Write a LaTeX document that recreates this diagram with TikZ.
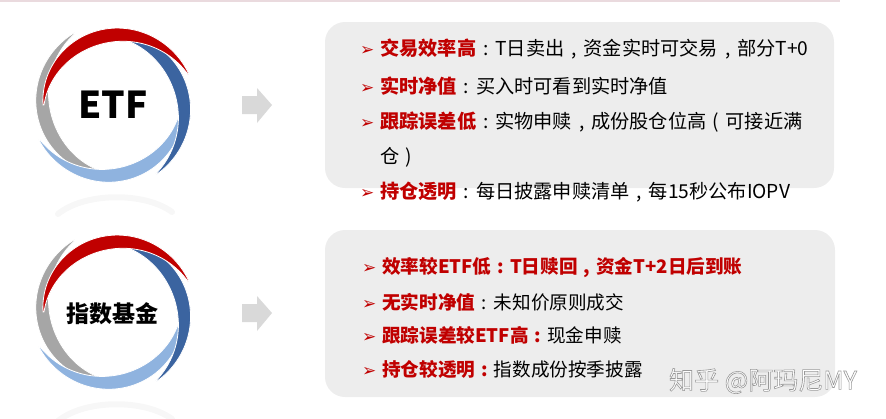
\documentclass[tikz,border=0pt]{standalone}
\usepackage{fontspec}
\setmainfont{Noto Sans CJK SC}
\newfontfamily\dingfont{DejaVu Sans}
\usetikzlibrary{positioning}

\definecolor{labred}{HTML}{C00000}
\definecolor{ringred}{HTML}{C00000}
\definecolor{ringdark}{HTML}{3B64A0}
\definecolor{ringlight}{HTML}{8FB3DF}
\definecolor{ringgray}{HTML}{A6A6A6}
\definecolor{panelgray}{HTML}{EDEDED}
\definecolor{arrowgray}{HTML}{D9D9D9}
\definecolor{topline}{HTML}{EADADE}

% one tapered swoosh of the ring: centre x, centre y, start angle, span, colour
\newcommand{\swoosh}[5]{%
  \fill[#5, draw=white, line width=0.8pt]
    plot[domain=0:1, samples=60] ({#1+(70+12*\x)*cos(#3-#4*\x)}, {#2-(70+12*\x)*sin(#3-#4*\x)})
    -- plot[domain=1:0, samples=60] ({#1+(69+12*\x-13*sin(180*\x))*cos(#3-#4*\x)}, {#2-(69+12*\x-13*sin(180*\x))*sin(#3-#4*\x)})
    -- cycle;}
\newcommand{\bul}{\makebox[20pt][l]{\dingfont\color{labred}\fontsize{17}{17}\selectfont ➢}}
\newcommand{\lbl}[1]{\textcolor{labred}{\bfseries #1}}
\newcommand{\fw}[1]{\makebox[1em][c]{#1}}

\begin{document}
\begin{tikzpicture}[
        x=1pt, y=-1pt,
        ringlabel/.style={inner sep=0pt, font=\bfseries},
        item/.style={anchor=west, inner sep=0pt, font=\fontsize{19.2}{19.2}\selectfont},
        itemb/.style={anchor=west, inner sep=0pt, font=\fontsize{18.6}{18.6}\selectfont},
        panel/.style={fill=panelgray, rounded corners=20pt},
        reflect/.style={line width=6pt, black!3, line cap=round}
    ]
    \useasboundingbox (0,0) rectangle (886,418);
    \draw[topline, line width=1.5pt] (0,0.75) -- (840,0.75);

    % rings
    \draw[reflect] (58,214) .. controls (85,192) and (145,192) .. (172,212);
    \swoosh{113}{105}{-90}{152}{ringgray}
    \swoosh{113}{105}{5}{160}{ringlight}
    \swoosh{113}{105}{95}{153}{ringdark}
    \swoosh{113}{105}{180}{158}{ringred}
    \node[ringlabel, font=\bfseries\fontsize{37}{37}\selectfont] (etf) at (113,105) {ETF};

    \draw[reflect] (58,421) .. controls (85,399) and (145,399) .. (172,419);
    \swoosh{113}{312}{-90}{152}{ringgray}
    \swoosh{113}{312}{5}{160}{ringlight}
    \swoosh{113}{312}{95}{153}{ringdark}
    \swoosh{113}{312}{180}{158}{ringred}
    \node[ringlabel, font=\bfseries\fontsize{23}{23}\selectfont] (idx) at (112,314) {指数基金};

    % arrows
    \fill[arrowgray] (242,96) -- (257,96) -- (257,88) -- (272,105) -- (257,123) -- (257,114) -- (242,114) -- cycle;
    \fill[arrowgray] (242,304) -- (257,304) -- (257,296) -- (272,313) -- (257,331) -- (257,322) -- (242,322) -- cycle;

    % panels
    \fill[panel] (325,22) rectangle (834,188);
    \fill[panel] (325,230) rectangle (835,397);

    \node[item] (e1) at (360,49) {\bul\lbl{交易效率高}\fw{:}T日卖出\fw{,}资金实时可交易\fw{,}部分T+0};
    \node[item] (e2) at (360,86) {\bul\lbl{实时净值}\fw{:}买入时可看到实时净值};
    \node[item] (e3) at (360,122) {\bul\lbl{跟踪误差低}\fw{:}实物申赎\fw{,}成份股仓位高\fw{(}可接近满};
    \node[item] (e4) at (380,157) {仓\fw{)}};
    \node[item] (e5) at (360,192) {\bul\lbl{持仓透明}\fw{:}每日披露申赎清单\fw{,}每15秒公布IOPV};

    \node[itemb] (f1) at (362,268) {\bul\lbl{效率较ETF低\fw{:}T日赎回\fw{,}资金T+2日后到账}};
    \node[itemb] (f2) at (362,302) {\bul\lbl{无实时净值}\fw{:}未知价原则成交};
    \node[itemb] (f3) at (362,335) {\bul\lbl{跟踪误差较ETF高\fw{:}}现金申赎};
    \node[itemb] (f4) at (362,369) {\bul\lbl{持仓较透明\fw{:}}指数成份按季披露};

    \node[inner sep=0pt, text=white, font=\fontsize{25}{25}\selectfont] (wm) at (763,381)
        {\special{pdf:literal direct 2 Tr 0.6 w 0.6 G}知乎 @阿玛尼MY\special{pdf:literal direct 0 Tr}};
\end{tikzpicture}
\end{document}
